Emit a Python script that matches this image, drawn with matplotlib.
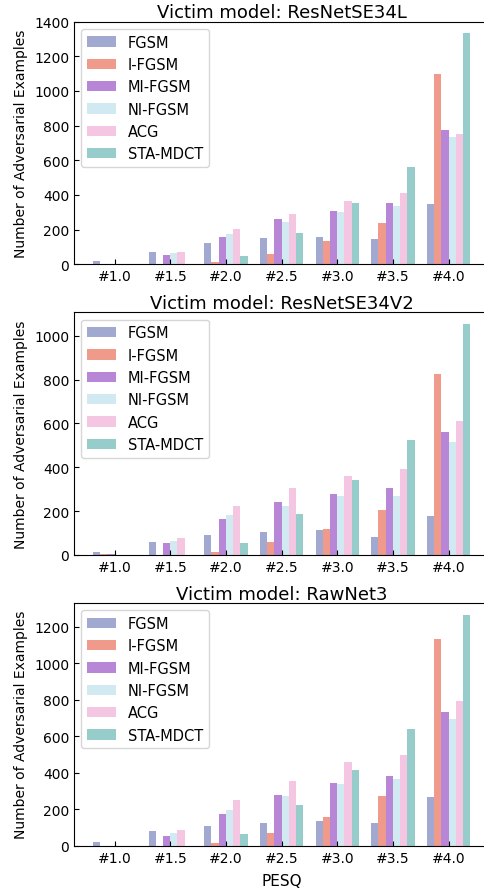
import numpy as np
import matplotlib
matplotlib.use("Agg")
import matplotlib.pyplot as plt

# PESQ bins and attack methods
pesq_bins = ['#1.0', '#1.5', '#2.0', '#2.5', '#3.0', '#3.5', '#4.0']
methods = ['FGSM', 'I-FGSM', 'MI-FGSM', 'NI-FGSM', 'ACG', 'STA-MDCT']
colors = ['#a2a9d0', '#f09a8b', '#b886d6', '#d1e9f0', '#f5c6e2', '#96cdca']

# counts per victim model, one row per method
resnetse34l = [
    [19, 71, 123, 152, 158, 146, 348],
    [0, 0, 13, 60, 135, 238, 1098],
    [0, 54, 158, 262, 308, 354, 775],
    [0, 65, 175, 244, 302, 337, 735],
    [0, 71, 204, 290, 365, 412, 752],
    [0, 0, 48, 181, 354, 562, 1334],
]
resnetse34v2 = [
    [13, 59, 91, 105, 114, 82, 178],
    [3, 0, 14, 59, 119, 205, 826],
    [3, 55, 164, 242, 278, 306, 561],
    [1, 64, 183, 224, 269, 269, 516],
    [1, 78, 224, 306, 360, 392, 611],
    [0, 2, 55, 187, 342, 525, 1054],
]
rawnet3 = [
    [20, 80, 108, 124, 135, 124, 267],
    [0, 0, 15, 70, 157, 273, 1134],
    [0, 53, 174, 278, 344, 382, 733],
    [0, 70, 196, 273, 338, 366, 695],
    [0, 86, 251, 355, 459, 497, 794],
    [0, 0, 64, 223, 415, 640, 1266],
]
titles = ['Victim model: ResNetSE34L', 'Victim model: ResNetSE34V2', 'Victim model: RawNet3']
panels = [resnetse34l, resnetse34v2, rawnet3]

fig = plt.figure(figsize=(4.85, 8.95), dpi=100)
bottoms = [0.7036, 0.3788, 0.054]
x = np.arange(len(pesq_bins))
w = 0.13

for k, data in enumerate(panels):
    ax = fig.add_axes([0.1526, bottoms[k], 0.856, 0.2712])
    for i, m in enumerate(methods):
        ax.bar(x + (i - 2.5) * w, data[i], w, color=colors[i], label=m)
    ax.set_xticks(x)
    ax.set_xticklabels(pesq_bins)
    ax.tick_params(direction='in', labelsize=10)
    ax.set_ylabel('Number of Adversarial Examples', fontsize=10)
    ax.set_title(titles[k], fontsize=13, pad=3)
    ax.legend(loc='upper left', fontsize=10.5)
    if k == 2:
        ax.set_xlabel('PESQ', fontsize=11, labelpad=6)

plt.savefig("out.png", dpi=100)
